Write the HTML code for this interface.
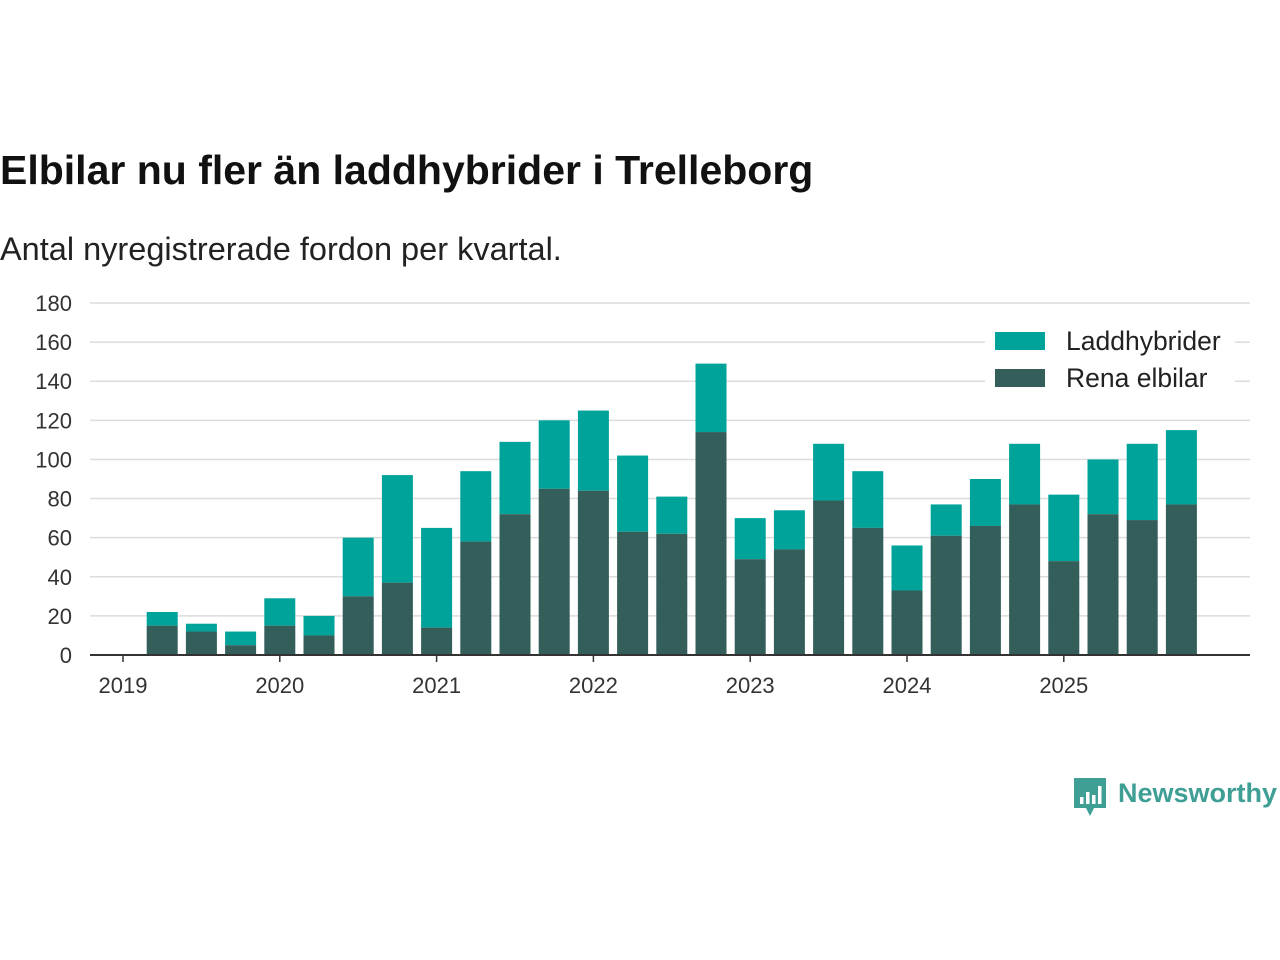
<!DOCTYPE html>
<html><head><meta charset="utf-8">
<style>
body{margin:0;width:1280px;height:960px;background:#fff;font-family:"Liberation Sans",sans-serif;overflow:hidden;position:relative}
#title{position:absolute;left:0;top:147px;font-size:41px;font-weight:bold;color:#111;margin:0;white-space:nowrap}
#sub{position:absolute;left:0;top:231px;font-size:32.5px;color:#222;white-space:nowrap}
svg{position:absolute;left:0;top:0}
</style></head><body>
<h1 id="title">Elbilar nu fler än laddhybrider i Trelleborg</h1>
<div id="sub">Antal nyregistrerade fordon per kvartal.</div>
<svg id="chart" width="1280" height="960"></svg>
<script>
const quarters=["2019Q2","2019Q3","2019Q4","2020Q1","2020Q2","2020Q3","2020Q4","2021Q1","2021Q2","2021Q3","2021Q4","2022Q1","2022Q2","2022Q3","2022Q4","2023Q1","2023Q2","2023Q3","2023Q4","2024Q1","2024Q2","2024Q3","2024Q4","2025Q1","2025Q2","2025Q3","2025Q4"];
const elbilar=[15,12,5,15,10,30,37,14,58,72,85,84,63,62,114,49,54,79,65,33,61,66,77,48,72,69,77];
const totals=[22,16,12,29,20,60,92,65,94,109,120,125,102,81,149,70,74,108,94,56,77,90,108,82,100,108,115];
const yTicks=[0,20,40,60,80,100,120,140,160,180];
const years=["2019","2020","2021","2022","2023","2024","2025"];
const NS="http://www.w3.org/2000/svg",svg=document.getElementById('chart');
const y=v=>655-v*352/180;
const x=i=>123+i*39.2;
function mk(t,a,p){const e=document.createElementNS(NS,t);for(const k in a)e.setAttribute(k,a[k]);(p||svg).appendChild(e);return e;}
yTicks.forEach(v=>{
 if(v>0){const l=mk('line',{x1:90,x2:1250,y1:y(v),y2:y(v),stroke:'#dcdcdc','stroke-width':1.5});
 
 }
 const t=mk('text',{x:72,y:y(v)+8,'text-anchor':'end','font-size':22,fill:'#333','font-family':'Liberation Sans, sans-serif'});
 t.textContent=v;
 
 
});
quarters.forEach((q,i)=>{
 const cx=x(i+1);
 const r1=mk('rect',{x:cx-15.5,y:y(totals[i]),width:31,height:y(elbilar[i])-y(totals[i]),fill:'#00a39a'});
 
 
 const r2=mk('rect',{x:cx-15.5,y:y(elbilar[i]),width:31,height:655-y(elbilar[i]),fill:'#335e5a'});
 
 
});
const ax=mk('line',{x1:90,x2:1250,y1:655,y2:655,stroke:'#333','stroke-width':2});


years.forEach((yr,k)=>{
 const cx=x(k*4);
 mk('line',{x1:cx,x2:cx,y1:655,y2:662,stroke:'#333','stroke-width':1.5});
 const t=mk('text',{x:cx,y:693,'text-anchor':'middle','font-size':22,fill:'#333','font-family':'Liberation Sans, sans-serif'});
 t.textContent=yr;
 
 
});
const lg=mk('g',{});


mk('rect',{x:985,y:322,width:250,height:75,fill:'#fff'},lg);
[["Laddhybrider","#00a39a",332],["Rena elbilar","#335e5a",369]].forEach(([n,c,yy])=>{
 const g=mk('g',{},lg);
 
 
 mk('rect',{x:995,y:yy,width:50,height:18,fill:c},g);
 const t=mk('text',{x:1066,y:yy+18,'font-size':26.5,fill:'#222','font-family':'Liberation Sans, sans-serif'},g);
 t.textContent=n;
});
const lo=mk('g',{});


mk('path',{d:'M1074 778h32v30h-12l-4 8-4-8h-12z',fill:'#3f9f95'},lo);
[[1080,797,7],[1086,792,12],[1092,795,9],[1098,786,18]].forEach(([a,b,h])=>mk('rect',{x:a,y:b,width:3.5,height:h,fill:'#fff'},lo));
const lt=mk('text',{x:1118,y:802,'font-size':27,'font-weight':'bold',fill:'#3f9f95','font-family':'Liberation Sans, sans-serif'},lo);
lt.textContent='Newsworthy';
</script>
</body></html>
